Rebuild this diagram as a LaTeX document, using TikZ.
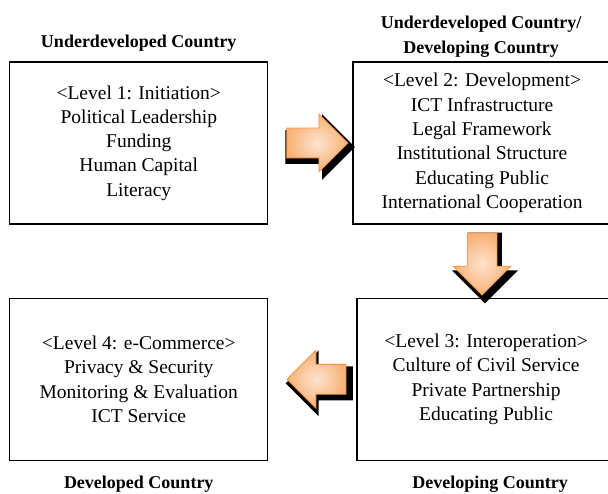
\documentclass[tikz,border=0pt]{standalone}
\usepackage{fontspec}
\setmainfont{Liberation Serif}
\usetikzlibrary{shapes.arrows, shadows, positioning}

\definecolor{arrowlight}{HTML}{FDE3CE}
\definecolor{arrowdark}{HTML}{F79646}

\begin{document}
\begin{tikzpicture}[
        box/.style={rectangle, draw=black, line width=1.3pt, minimum width=258pt, minimum height=162pt,
            align=center, inner sep=0pt, font=\fontsize{19.5}{24.3}\selectfont},
        head/.style={align=center, inner sep=0pt, font=\fontsize{18}{25}\selectfont\bfseries},
        blockarrow/.style={single arrow, draw=arrowdark, line width=0.8pt, inner xsep=0pt, inner ysep=14.5pt,
            single arrow head extend=14pt, single arrow tip angle=90,
            inner color=arrowlight, outer color=arrowdark!75,
            drop shadow={shadow scale=1.14, shadow xshift=2.5pt, shadow yshift=-3.5pt, fill=black, opacity=1}}
    ]

    \clip (0,0) rectangle (608pt,493pt);
    \useasboundingbox (0,0) rectangle (608pt,493pt);

    % Level boxes
    \node (lvl1) [box] at (138.75pt,350pt) {<Level 1: Initiation>\\Political Leadership\\Funding\\Human Capital\\Literacy};
    \node (lvl2) [box, right=84pt of lvl1] {<Level 2: Development>\\ICT Infrastructure\\Legal Framework\\Institutional Structure\\Educating Public\\International Cooperation};
    \node (lvl4) [box, below=73pt of lvl1] {<Level 4: e-Commerce>\\Privacy \& Security\\Monitoring \& Evaluation\\ICT Service};
    \node (lvl3) [box, right=88pt of lvl4] {<Level 3: Interoperation>\\Culture of Civil Service\\Private Partnership\\Educating Public};

    % Country stages
    \node (hd1) [head, above=10pt of lvl1] {Underdeveloped Country};
    \node (hd2) [head, above=4pt of lvl2, xshift=-1pt] {Underdeveloped Country/\\Developing Country};
    \node (hd3) [head, below=15pt of lvl3, xshift=4pt] {Developing Country};
    \node (hd4) [head, below=15pt of lvl4] {Developed Country};

    % Arrows
    \node (a12) [blockarrow, minimum height=61pt, left=4pt of lvl2] {};
    \node (a23) [blockarrow, minimum height=62pt, rotate=-90, below=8pt of lvl2, anchor=west] {};
    \node (a34) [blockarrow, minimum height=59pt, rotate=180, left=10pt of lvl3, anchor=west] {};

\end{tikzpicture}
\end{document}
